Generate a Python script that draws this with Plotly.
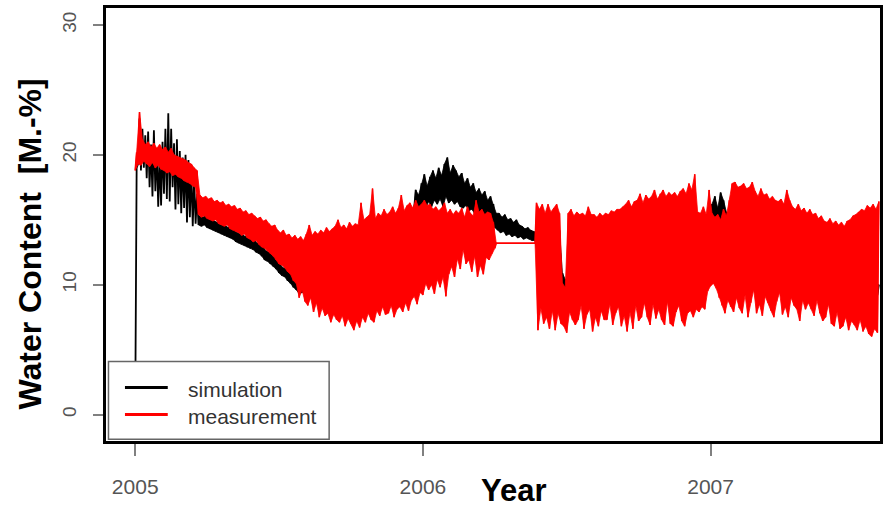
import numpy as np
import plotly.graph_objects as go

# ---------------- data ----------------
# sampling grid: every 0.01 year starting 2005.00; "lo" value at t, "hi" value at t+0.005
t_start = 2005.0
t_step = 0.01
x_ticks = [2005, 2006, 2007]
x_tick_labels = ["2005", "2006", "2007"]
y_ticks = [0, 10, 20, 30]
y_tick_labels = ["0", "10", "20", "30"]

meas_lo = [
    18.8, 19.3, 19.2, 19.5, 19.3, 19.1, 19.4, 19.0, 19.2, 18.9,
    18.8, 18.6, 18.7, 18.4, 18.5, 18.3, 18.2, 18.0, 17.9, 17.8,
    17.6, 17.5, 15.4, 15.2, 15.3, 15.1, 15.0, 14.9, 15.0, 14.7,
    14.6, 14.5, 14.6, 14.3, 14.2, 14.1, 14.0, 13.8, 13.9, 13.6,
    13.5, 13.3, 13.4, 13.1, 12.9, 12.8, 12.6, 12.4, 12.2, 11.9,
    11.6, 11.5, 11.3, 11.0, 10.8, 10.3, 10.1, 9.0, 9.6, 8.7,
    8.4, 9.0, 7.9, 8.6, 7.5, 8.2, 7.6, 7.8, 7.1, 7.7,
    7.3, 7.1, 7.6, 6.8, 7.4, 7.0, 6.5, 7.2, 6.7, 7.5,
    7.1, 7.8, 7.3, 7.1, 8.0, 7.6, 8.3, 7.7, 7.8, 8.4,
    7.5, 8.1, 8.3, 7.9, 8.6, 8.0, 8.8, 9.1, 8.5, 9.4,
    9.2, 10.1, 9.6, 10.0, 9.3, 10.4, 9.8, 10.6, 9.1, 10.8,
    11.4, 10.6, 12.0, 11.2, 12.7, 11.6, 11.9, 11.0, 12.2, 10.6,
    11.5, 10.8, 12.1, 11.9, 12.4, 12.8,
    None, None, None, None, None, None, None, None, None, None, None, None, None,
    13.2,
    6.5, 8.2, 7.0, 7.5, 6.6, 8.0, 6.5, 7.8, 7.0, 6.8,
    6.3, 7.9, 7.3, 6.9, 7.3, 8.4, 6.6, 7.7, 8.1, 6.4,
    7.5, 6.8, 8.0, 7.3, 7.3, 8.5, 6.9, 7.8, 8.3, 6.8,
    7.6, 6.4, 7.9, 6.6, 8.4, 7.2, 7.5, 8.6, 7.5, 6.9,
    8.5, 7.4, 8.1, 7.3, 6.9, 8.7, 7.0, 6.8, 7.9, 8.4,
    7.2, 6.8, 7.8, 8.0, 7.5, 8.1, 7.9, 8.3, 8.1, 9.5,
    9.9, 10.1, 9.7, 9.0, 8.4, 7.8, 8.8, 8.3, 7.9, 9.0,
    8.2, 7.8, 9.2, 7.5, 8.6, 9.6, 7.8, 8.5, 7.6, 9.1,
    8.6, 8.0, 7.5, 8.7, 9.4, 7.7, 8.3, 7.5, 9.0, 8.4,
    8.1, 7.2, 8.8, 8.1, 8.6, 8.1, 7.6, 8.8, 7.8, 7.2,
    7.5, 8.5, 7.0, 6.8, 7.9, 6.6, 6.8, 7.5, 6.5, 7.2,
    6.9, 6.5, 7.3, 6.4, 6.8, 6.2, 6.0, 6.6, 6.3,
]

meas_hi = [
    20.2, 23.3, 21.2, 20.8, 21.0, 20.6, 20.9, 20.5, 20.8, 20.4,
    20.6, 20.2, 20.5, 20.0, 19.9, 19.8, 19.7, 19.6, 19.4, 19.3,
    19.0, 18.8, 16.9, 16.7, 16.8, 16.6, 16.7, 16.4, 16.5, 16.3,
    16.4, 16.1, 16.2, 16.0, 16.1, 15.8, 15.9, 15.6, 15.7, 15.4,
    15.5, 15.3, 15.1, 15.2, 14.9, 15.0, 14.7, 14.5, 14.6, 14.2,
    14.0, 14.2, 13.8, 13.9, 13.6, 13.8, 13.5, 13.7, 13.4, 13.9,
    14.6, 13.8, 14.1, 13.9, 14.2, 14.0, 14.4, 14.1, 14.3, 14.5,
    15.0, 14.4, 14.6, 14.3, 14.8, 14.5, 14.7, 14.6, 16.3, 15.0,
    15.2, 15.4, 17.4, 15.1, 15.5, 15.3, 15.8, 15.4, 15.6, 16.0,
    15.5, 15.9, 16.9, 15.7, 16.1, 16.3, 15.9, 16.5, 16.0, 16.2,
    16.5, 16.1, 16.2, 15.8, 16.0, 15.7, 15.9, 16.3, 15.5, 15.8,
    15.4, 15.7, 15.5, 15.9, 15.2, 16.0, 15.5, 15.3, 16.5, 15.6,
    15.8, 15.4, 15.6, 15.5, 14.8, 13.2,
    None, None, None, None, None, None, None, None, None, None, None, None, None,
    16.3,
    15.8, 16.2, 15.5, 16.2, 15.6, 15.9, 16.2, 15.5, 10.1, 9.8,
    15.5, 15.8, 15.3, 15.6, 15.4, 15.5, 15.3, 16.0, 15.4, 15.4,
    15.2, 15.5, 15.3, 15.5, 15.4, 15.7, 15.6, 15.8, 15.8, 16.0,
    16.2, 16.5, 16.0, 16.4, 16.5, 17.0, 16.3, 16.9, 16.6, 16.8,
    17.3, 16.6, 17.0, 17.3, 16.8, 17.1, 16.9, 17.1, 16.8, 17.2,
    17.4, 17.0, 17.8, 17.3, 18.5, 15.6, 15.5, 16.0, 15.4, 17.3,
    15.5, 15.2, 15.4, 15.0, 15.8, 15.3, 16.5, 17.8, 17.9, 17.5,
    17.6, 17.8, 17.4, 17.5, 17.9, 17.2, 16.8, 17.4, 16.9, 17.0,
    16.6, 16.8, 16.5, 16.4, 16.6, 16.2, 17.3, 16.5, 16.0, 15.8,
    16.2, 15.7, 15.9, 15.5, 15.8, 15.4, 15.5, 15.1, 15.3, 14.9,
    14.8, 15.1, 14.7, 14.9, 14.6, 14.8, 14.5, 14.9, 15.0, 15.3,
    15.4, 15.6, 15.8, 15.7, 16.1, 15.9, 16.2, 15.8, 16.4,
]

sim_lo = [
    0.0, 19.3, 18.8, 19.0, 18.2, 17.5, 16.8, 17.2, 16.0, 16.1,
    17.0, 16.6, 16.4, 17.5, 15.8, 16.2, 15.5, 15.9, 14.8, 15.2,
    14.5, 14.7, 14.6, 14.5, 14.6, 14.4, 14.3, 14.2, 14.1, 14.0,
    13.9, 13.8, 13.7, 13.6, 13.5, 13.3, 13.2, 13.1, 13.0, 12.9,
    12.8, 12.7, 12.5, 12.4, 12.2, 11.9, 11.8, 11.6, 11.4, 11.2,
    10.9, 10.7, 10.6, 10.3, 10.1, 9.8, 9.6, 9.3, 9.4, 9.6,
    9.5, 9.8, 9.7, 10.0, 9.9, 10.2, 10.1, 10.4, 10.3, 10.6,
    10.5, 10.8, 10.7, 11.0, 10.9, 11.2, 11.1, 11.4, 11.3, 11.6,
    11.5, 11.8, 11.7, 12.0, 11.9, 12.2, 12.1, 12.4, 12.3, 12.6,
    12.5, 12.8, 12.7, 13.0, 13.2, 13.5, 14.0, 15.2, 15.8, 16.0,
    16.2, 15.9, 16.4, 16.0, 16.5, 16.2, 16.6, 16.0, 16.8, 16.3,
    16.5, 16.2, 16.4, 16.0, 15.9, 16.1, 15.7, 15.8, 15.5, 15.6,
    15.4, 15.2, 15.0, 14.8, 14.6, 14.4,
    14.2, 14.0, 14.1, 13.8, 13.9, 13.7, 13.8, 13.6, 13.7, 13.5, 13.6, 13.5, 13.4, 13.4,
    12.0, 11.8, 11.5, 11.8, 12.0, 11.6, 12.2, 12.5, 10.2, 9.8,
    9.9, 10.2, 9.5, 9.6, 9.4, 9.2, 9.1, 9.3, 9.6, 9.8,
    10.0, 10.3, 10.5, 10.8, 11.0, 11.2, 11.5, 11.4, 11.8, 12.0,
    12.2, 12.1, 12.5, 12.4, 12.8, 12.7, 13.0, 12.9, 13.2, 13.1,
    13.3, 13.4, 13.2, 13.6, 13.5, 13.8, 13.6, 13.9, 14.0, 13.8,
    14.0, 14.1, 14.2, 14.0, 14.3, 14.2, 14.4, 14.5, 14.6, 14.8,
    14.9, 15.0, 14.8, 15.1, 14.9, 14.6, 14.2, 13.9, 13.6, 13.4,
    13.2, 13.0, 12.8, 12.7, 12.5, 12.3, 12.2, 12.0, 11.9, 11.8,
    11.7, 11.5, 11.4, 11.3, 11.2, 11.0, 10.9, 10.8, 10.8, 10.7,
    10.6, 10.5, 10.5, 10.4, 10.3, 10.3, 10.2, 10.1, 10.1, 10.0,
    10.0, 9.9, 9.9, 9.8, 9.8, 9.7, 9.7, 9.6, 9.6, 9.5,
    9.5, 9.5, 9.4, 9.4, 9.4, 9.3, 9.3, 9.3, 9.2,
]

sim_hi = [
    19.0, 22.8, 22.0, 21.5, 21.8, 20.8, 21.9, 20.5, 19.8, 21.0,
    22.0, 23.2, 22.0, 20.9, 21.2, 20.3, 19.8, 20.0, 19.6, 18.9,
    18.2, 17.0, 15.3, 15.2, 15.3, 15.1, 15.0, 14.9, 14.8, 14.7,
    14.6, 14.5, 14.4, 14.3, 14.2, 14.0, 13.9, 13.8, 13.7, 13.6,
    13.5, 13.4, 13.2, 13.1, 12.9, 12.6, 12.5, 12.3, 12.1, 11.9,
    11.5, 11.3, 11.2, 10.9, 10.7, 10.3, 10.1, 9.9, 10.0, 10.3,
    10.4, 10.6, 10.6, 10.9, 10.8, 11.1, 11.0, 11.4, 11.2, 11.6,
    11.5, 11.9, 11.8, 12.1, 12.0, 12.4, 12.2, 12.6, 12.5, 12.9,
    12.8, 13.1, 13.0, 13.4, 13.3, 13.6, 13.5, 13.8, 13.7, 14.1,
    14.0, 14.4, 14.3, 14.6, 14.8, 15.0, 15.4, 17.3, 16.9, 17.8,
    18.5, 17.6, 18.3, 18.8, 18.2, 19.0, 18.4, 19.3, 19.8, 18.6,
    19.2, 18.8, 18.3, 18.6, 17.8, 18.2, 17.5, 17.8, 17.1, 17.4,
    16.9, 17.2, 16.5, 16.8, 16.2, 15.5,
    15.5, 15.2, 15.4, 15.0, 15.1, 14.8, 15.0, 14.6, 14.5, 14.3, 14.4, 14.2, 14.1, 14.0,
    13.5, 13.0, 13.3, 12.8, 13.4, 13.0, 13.8, 14.2, 10.9, 10.4,
    10.6, 11.0, 10.2, 10.4, 10.1, 9.9, 9.8, 10.0, 10.4, 10.6,
    10.8, 11.1, 11.3, 11.6, 11.8, 12.0, 12.3, 12.2, 12.6, 12.8,
    13.0, 12.9, 13.3, 13.2, 13.6, 13.5, 13.8, 13.7, 14.0, 13.9,
    14.1, 14.2, 14.0, 14.4, 14.3, 14.6, 14.4, 14.7, 14.8, 14.6,
    14.8, 14.9, 15.0, 14.8, 15.1, 15.0, 15.2, 15.3, 15.4, 15.6,
    16.2, 16.8, 15.9, 17.1, 16.5, 15.6, 15.0, 14.7, 14.4, 14.2,
    14.0, 13.8, 13.6, 13.5, 13.3, 13.1, 13.0, 12.8, 12.7, 12.6,
    12.5, 12.3, 12.2, 12.1, 12.0, 11.8, 11.7, 11.6, 11.6, 11.5,
    11.4, 11.3, 11.3, 11.2, 11.1, 11.1, 11.0, 10.9, 10.9, 10.8,
    10.8, 10.7, 10.7, 10.6, 10.6, 10.5, 10.5, 10.4, 10.4, 10.3,
    10.3, 10.3, 10.2, 10.2, 10.2, 10.1, 10.1, 10.1, 10.0,
]


def t_of(i):
    return round(t_start + t_step * i, 4)


def interleave(lo, hi):
    """Time series: lo value at t, hi value at t + half a step."""
    xs, ys = [], []
    for i, (a, b) in enumerate(zip(lo, hi)):
        xs += [t_of(i), round(t_of(i) + t_step / 2, 4)]
        ys += [a, b]
    return xs, ys


def band(lo, hi, start=0):
    """Closed outline through the hi values (forward) and lo values (back) of each run."""
    runs, cur = [], []
    for i, (a, b) in enumerate(zip(lo, hi)):
        if i < start:
            continue
        if a is None or b is None:
            if cur:
                runs.append(cur)
            cur = []
        else:
            cur.append(i)
    if cur:
        runs.append(cur)
    xs, ys = [], []
    for run in runs:
        fx = [round(t_of(i) + t_step / 2, 4) for i in run]
        fy = [hi[i] for i in run]
        bx = [t_of(i) for i in reversed(run)]
        by = [lo[i] for i in reversed(run)]
        xs += fx + bx + [fx[0], None]
        ys += fy + by + [fy[0], None]
    return xs, ys


sx, sy = interleave(sim_lo, sim_hi)
mx, my = interleave(meas_lo, meas_hi)
sbx, sby = band(sim_lo, sim_hi, start=22)   # early, sparse spikes stay as a plain line
mbx, mby = band(meas_lo, meas_hi)

FONT = "Liberation Sans, Arial, Helvetica, sans-serif"
RED = "#ff0000"

fig = go.Figure()
fig.add_trace(go.Scatter(x=sbx, y=sby, mode="lines", fill="toself", fillcolor="black",
                         line=dict(color="black", width=0.8), hoverinfo="skip",
                         name="simulation"))
fig.add_trace(go.Scatter(x=sx, y=sy, mode="lines", name="simulation",
                         line=dict(color="black", width=1.8, simplify=False), connectgaps=True))
fig.add_trace(go.Scatter(x=mbx, y=mby, mode="lines", fill="toself", fillcolor=RED,
                         line=dict(color=RED, width=0.8), hoverinfo="skip",
                         name="measurement"))
fig.add_trace(go.Scatter(x=mx, y=my, mode="lines", name="measurement",
                         line=dict(color=RED, width=1.6, simplify=False), connectgaps=True))

axis_common = dict(
    showline=True, linecolor="black", linewidth=3, mirror=True,
    showgrid=False, zeroline=False, ticks="outside", tickwidth=1.5,
    tickcolor="#808080",
)

fig.update_layout(
    width=887, height=507,
    margin=dict(l=106, r=4, t=8, b=66),
    plot_bgcolor="white", paper_bgcolor="white",
    showlegend=False,
    font=dict(family=FONT),
    xaxis=dict(range=[2004.8985, 2007.589], tickvals=x_ticks, ticktext=x_tick_labels,
               ticklen=12, tickfont=dict(size=21, color="#555555"),
               ticklabelstandoff=13, **axis_common),
    yaxis=dict(range=[-2.04, 31.31], tickvals=y_ticks, ticktext=y_tick_labels,
               ticklen=10, tickangle=-90, tickfont=dict(size=19, color="#555555"),
               ticklabelstandoff=9, **axis_common),
)

# axis titles
fig.add_annotation(text="<b>Year</b>", xref="paper", yref="paper", x=0.5270, y=-0.114,
                   xanchor="center", yanchor="middle", showarrow=False,
                   font=dict(size=31, color="black", family=FONT))
fig.add_annotation(text="<b>Water Content&nbsp; [M.-%]</b>", xref="paper", yref="paper",
                   x=-0.0985, y=0.4556, textangle=-90, xanchor="center", yanchor="middle",
                   showarrow=False, font=dict(size=32, color="black", family=FONT))

# legend box (drawn manually to match the R legend)
fig.add_shape(type="rect", xref="paper", yref="paper", x0=0.0032, x1=0.2883, y0=0.004, y1=0.1834,
              line=dict(color="#666666", width=1.5), fillcolor="white", layer="above")
fig.add_shape(type="line", xref="paper", yref="paper", x0=0.0245, x1=0.0798, y0=0.1234, y1=0.1234,
              line=dict(color="black", width=3), layer="above")
fig.add_shape(type="line", xref="paper", yref="paper", x0=0.0245, x1=0.0798, y0=0.0611, y1=0.0611,
              line=dict(color=RED, width=3), layer="above")
fig.add_annotation(text="simulation", xref="paper", yref="paper", x=0.103, y=0.1190,
                   xanchor="left", yanchor="middle", showarrow=False,
                   font=dict(size=21, color="#333333", family=FONT))
fig.add_annotation(text="measurement", xref="paper", yref="paper", x=0.103, y=0.0570,
                   xanchor="left", yanchor="middle", showarrow=False,
                   font=dict(size=21, color="#333333", family=FONT))

fig.write_html(
    "out.html",
    config={"displayModeBar": False},
    post_script="document.body.style.margin='0px';document.body.style.overflow='hidden';",
)
